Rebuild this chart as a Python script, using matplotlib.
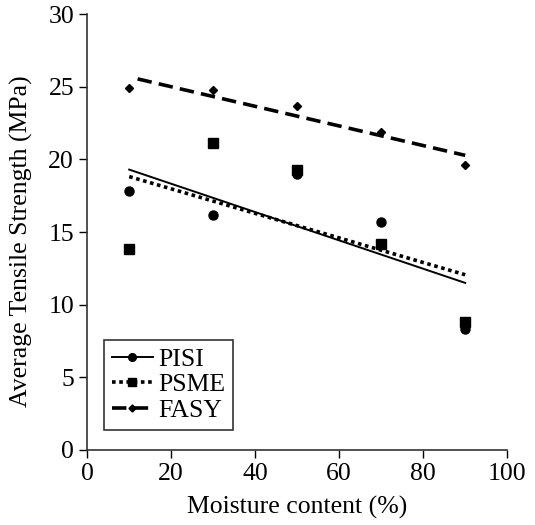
import matplotlib.pyplot as plt
import numpy as np
from matplotlib.lines import Line2D

# Moisture content (%) and average tensile strength (MPa) per species
moisture = [10, 30, 50, 70, 90]
pisi = [17.8, 16.2, 19.0, 15.7, 8.3]
psme = [13.8, 21.1, 19.3, 14.2, 8.8]
fasy = [24.9, 24.8, 23.7, 21.9, 19.6]

plt.rcParams['font.family'] = ['Liberation Serif', 'DejaVu Serif']

fig = plt.figure(figsize=(5.35, 5.25), dpi=100)
ax = fig.add_axes([0.163, 0.143, 0.785, 0.830])

series = [
    ('PISI', pisi, 'o', 6.5, '-', 1.4),
    ('PSME', psme, 's', 6.5, (0, (1, 1)), 2.6),
    ('FASY', fasy, 'D', 4.2, (0, (4, 2)), 2.6),
]

x = np.array(moisture)
handles = []
for name, vals, mk, ms, ls, lw in series:
    ax.plot(x, vals, linestyle='none', marker=mk, markersize=ms, color='black')
    # linear trend line
    k, b = np.polyfit(x, vals, 1)
    x0 = 12 if name == 'FASY' else x.min()
    xs = np.array([x0, x.max()])
    ax.plot(xs, k * xs + b, linestyle=ls, linewidth=lw, color='black')
    handles.append(Line2D([], [], color='black', linestyle=ls, linewidth=lw,
                          marker=mk, markersize=ms * 0.85, label=name))

fs = 18.5
ax.set_xlim(0, 100)
ax.set_ylim(0, 30)
ax.set_xticks(range(0, 101, 20))
ax.set_yticks(range(0, 31, 5))
ax.set_xlabel('Moisture content (%)', fontsize=fs, labelpad=8)
ax.set_ylabel('Average Tensile Strength (MPa)', fontsize=fs)
ax.yaxis.set_label_coords(-0.13, 0.48)
ax.tick_params(labelsize=fs, length=6, width=1, direction='out')

for side in ['top', 'right']:
    ax.spines[side].set_visible(False)
for side in ['left', 'bottom']:
    ax.spines[side].set_color('#333333')
    ax.spines[side].set_linewidth(1.2)

leg = ax.legend(handles=handles, loc='lower left', bbox_to_anchor=(0.028, 0.035),
                fontsize=fs, frameon=True, fancybox=False, edgecolor='black',
                handlelength=1.6, handletextpad=0.2, borderpad=0.3,
                labelspacing=0.1, borderaxespad=0.2)
leg.get_frame().set_linewidth(1.2)

fig.savefig('out.png', dpi=100)
